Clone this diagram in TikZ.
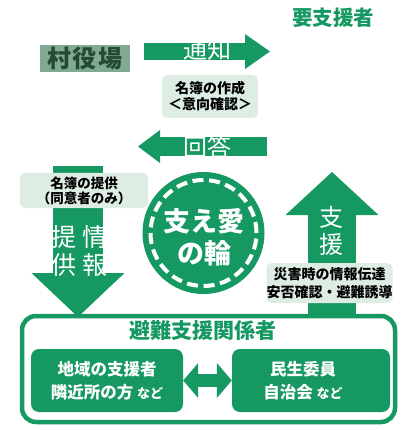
\documentclass[tikz,border=0pt]{standalone}
\usepackage{fontspec}
\setmainfont{Noto Sans CJK JP}
\usetikzlibrary{arrows.meta, positioning, calc}
\definecolor{mygreen}{RGB}{22,152,98}
\definecolor{palegreen}{RGB}{222,237,228}
\definecolor{graygreen}{RGB}{128,170,145}
\definecolor{darkgreen}{RGB}{38,72,54}

\begin{document}
\begin{tikzpicture}[x=1pt, y=-1pt,
        note/.style={rectangle, rounded corners=5pt, fill=palegreen, align=center, inner sep=0pt, text=black,
            font=\bfseries\fontsize{14}{16}\selectfont},
        groupbox/.style={rectangle, rounded corners=8pt, fill=mygreen, text=white, align=center, inner sep=0pt,
            minimum height=63pt, font=\bfseries\fontsize{16.5}{23}\selectfont},
        arrowtext/.style={text=white, align=center, inner sep=0pt},
        blockarrow/.style={draw=mygreen}
    ]
        \useasboundingbox (0,0) rectangle (407,430);

        % Top labels
        \node[text=mygreen, font=\bfseries\fontsize{20.5}{22}\selectfont] (target) at (333,18) {要支援者};
        \node[fill=graygreen, text=darkgreen, minimum width=90pt, minimum height=27pt, inner sep=0pt,
            font=\bfseries\fontsize{24}{26}\selectfont] (office) at (85,58.5) {村\hspace{2pt}役\hspace{2pt}場};

        % Notice / answer arrows
        \coordinate (notice-s) at (144,51.5);
        \coordinate (notice-e) at (270,51.5);
        \draw[blockarrow, line width=17pt, -{Triangle[length=25pt, width=35pt, line width=0pt]}] (notice-s) -- (notice-e);
        \node[arrowtext, font=\fontsize{24}{26}\selectfont] (notice) at (207,49) {通知};

        \node[note, minimum width=96pt, minimum height=43pt] (list) at (210,96.5) {名簿の作成\\＜意向確認＞};

        \coordinate (answer-s) at (267,146.5);
        \coordinate (answer-e) at (138,146.5);
        \draw[blockarrow, line width=19pt, -{Triangle[length=22pt, width=33pt, line width=0pt]}] (answer-s) -- (answer-e);
        \node[arrowtext, font=\fontsize{24}{26}\selectfont] (answer) at (207,147) {回答};

        % Information down arrow
        \coordinate (info-s) at (78,166);
        \coordinate (info-e) at (78,317);
        \draw[blockarrow, line width=50pt, -{Triangle[length=44pt, width=93pt, line width=0pt]}] (info-s) -- (info-e);
        \node[note, minimum width=128pt, minimum height=35pt, font=\bfseries\fontsize{13.5}{15}\selectfont] (provide) at (84,190.5) {名簿の提供\\（同意者のみ）};
        \node[arrowtext, font=\fontsize{25}{28}\selectfont] (info1) at (95,251) {情\\報};
        \node[arrowtext, font=\fontsize{25}{28}\selectfont] (info2) at (64,251) {提\\供};

        % Support up arrow
        \coordinate (support-s) at (332,316);
        \coordinate (support-e) at (332,172);
        \draw[blockarrow, line width=48pt, -{Triangle[length=43pt, width=93pt, line width=0pt]}] (support-s) -- (support-e);
        \node[arrowtext, font=\fontsize{24}{27}\selectfont] (support) at (331,231) {支\\援};
        \node[note, minimum width=125pt, minimum height=40pt, font=\bfseries\fontsize{14}{18}\selectfont] (disaster) at (329.5,283) {災害時の情報伝達\\安否確認・避難誘導};

        % Ring
        \node[circle, fill=mygreen, minimum size=122pt, inner sep=0pt] (ring) at (203.5,233) {};
        \draw[white, line width=4pt, dash pattern=on 11pt off 5.65pt] (ring.center) circle[radius=53pt];
        \node[arrowtext, font=\bfseries\fontsize{27}{32}\selectfont] (ringlabel) at (204,237) {支え愛\\の輪};

        % Helpers
        \node[draw=mygreen, line width=4.5pt, rounded corners=14pt, fill=white, minimum width=373pt, minimum height=106pt] (helpers) at (208.5,369) {};
        \node[text=mygreen, font=\bfseries\fontsize{21}{23}\selectfont] (helpertitle) at (203,331) {避難支援関係者};
        \node[groupbox, minimum width=152pt] (locals) at (107,380.5) {};
        \node[arrowtext, font=\bfseries\fontsize{16.5}{23}\selectfont] at (locals) {地域の支援者\\隣近所の方 {\fontsize{13}{15}\selectfont など}};
        \node[groupbox, minimum width=158pt] (welfare) at (311,380.5) {};
        \node[arrowtext, font=\bfseries\fontsize{16.5}{23}\selectfont] at ([xshift=-8pt]welfare.center) {民生委員\\自治会 {\fontsize{13}{15}\selectfont など}};
        \draw[mygreen, line width=13pt, {Triangle[length=15pt, width=35pt, line width=0pt]}-{Triangle[length=15pt, width=35pt, line width=0pt]}] (locals) -- (welfare);

    \end{tikzpicture}
\end{document}
